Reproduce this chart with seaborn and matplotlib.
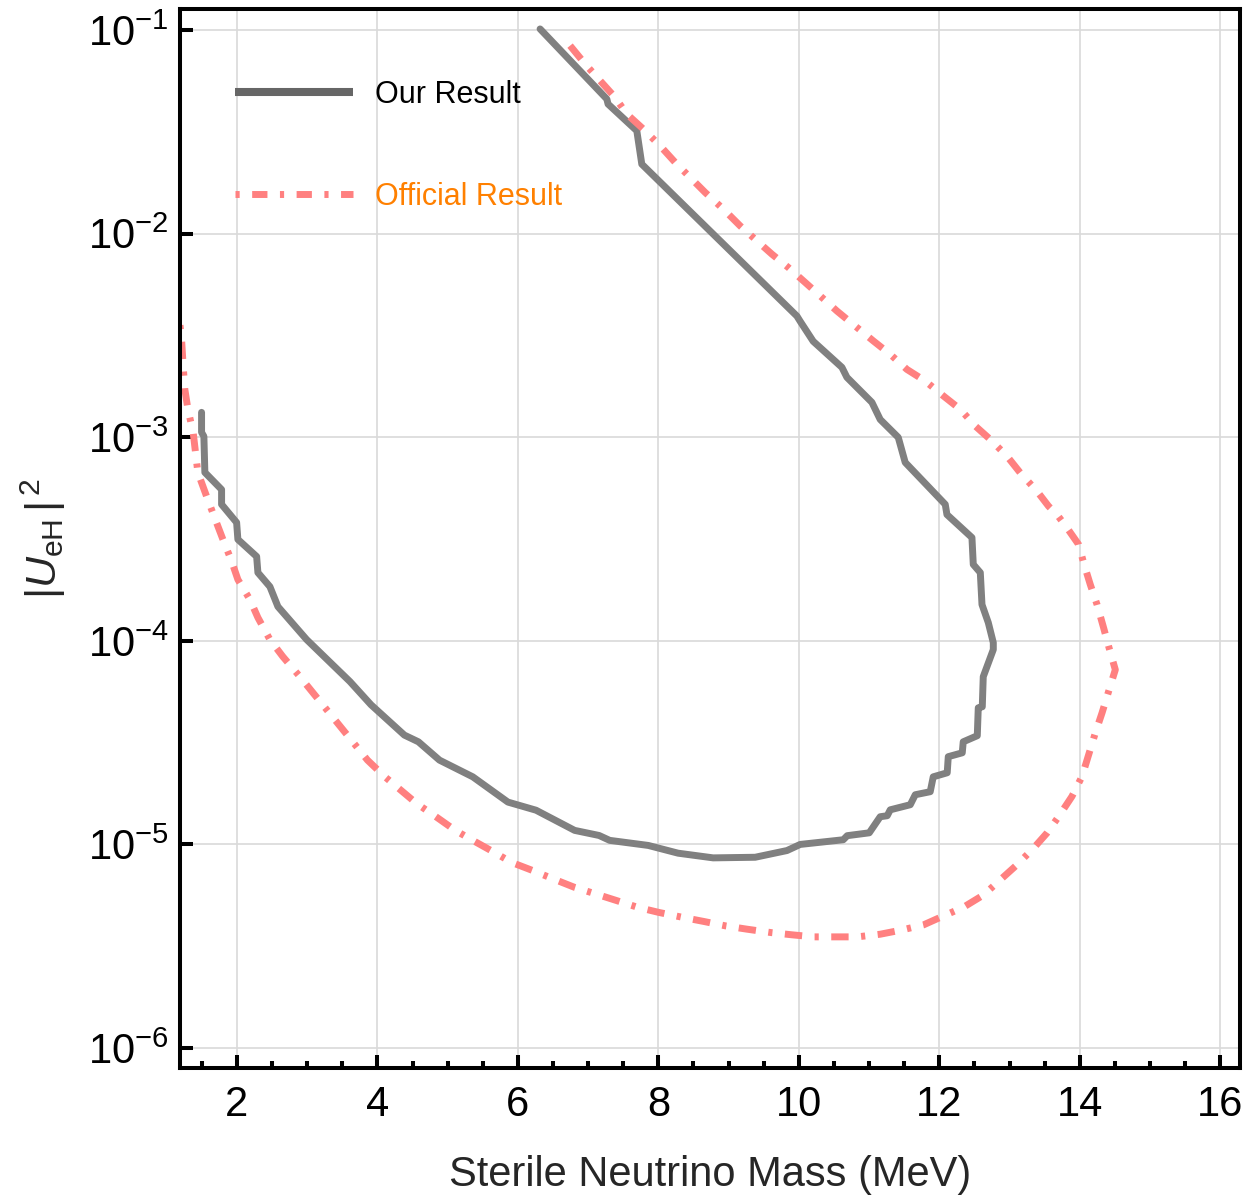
import numpy as np
import pandas as pd
import matplotlib
matplotlib.use("Agg")
import matplotlib.pyplot as plt
import seaborn as sns
from matplotlib.lines import Line2D
from matplotlib.ticker import MultipleLocator, NullLocator, FixedLocator

# ---------------- data ----------------
our_mass = [6.316, 7.266, 7.284, 7.693, 7.764, 9.972, 10.019, 10.204, 10.613, 10.684,
            11.040, 11.158, 11.415, 11.514, 12.084, 12.108, 12.464, 12.483, 12.583, 12.607,
            12.697, 12.768, 12.768, 12.625, 12.611, 12.554, 12.540, 12.340, 12.326, 12.127,
            12.112, 11.913, 11.870, 11.657, 11.586, 11.301, 11.258, 11.158, 11.002, 10.689,
            10.632, 10.019, 9.831, 9.378, 8.780, 8.281, 7.857, 7.307, 7.156, 6.808,
            6.259, 5.858, 5.358, 4.884, 4.584, 4.384, 3.909, 3.609, 2.993, 2.584,
            2.470, 2.299, 2.281, 2.014, 1.996, 1.782, 1.782, 1.544, 1.530, 1.497, 1.497]
our_logU = [-0.995, -1.339, -1.364, -1.495, -1.659, -2.405, -2.431, -2.529, -2.657, -2.706,
            -2.829, -2.913, -3.001, -3.124, -3.330, -3.380, -3.493, -3.625, -3.665, -3.822,
            -3.911, -4.009, -4.043, -4.176, -4.324, -4.329, -4.466, -4.496, -4.550, -4.569,
            -4.648, -4.668, -4.741, -4.756, -4.805, -4.830, -4.859, -4.864, -4.943, -4.957,
            -4.977, -5.000, -5.030, -5.063, -5.066, -5.043, -5.005, -4.980, -4.956, -4.931,
            -4.832, -4.792, -4.668, -4.586, -4.496, -4.463, -4.314, -4.200, -3.994, -3.832,
            -3.734, -3.665, -3.586, -3.502, -3.419, -3.330, -3.257, -3.173, -2.996, -2.976, -2.878]

off_mass = [6.743, 6.957, 7.170, 7.384, 7.551, 7.787, 8.025, 8.238, 8.452, 8.666,
            8.926, 9.164, 9.378, 9.616, 9.852, 10.090, 10.304, 10.541, 10.802, 11.063,
            11.301, 11.538, 11.799, 12.060, 12.298, 12.511, 12.725, 12.963, 13.152, 13.390,
            13.555, 13.675, 13.817, 13.983, 14.054, 14.149, 14.245, 14.339, 14.410, 14.505,
            14.410, 14.316, 14.220, 14.125, 14.031, 13.888, 13.698, 13.532, 13.342, 13.105,
            12.867, 12.630, 12.345, 12.060, 11.775, 11.468, 11.158, 10.831, 10.531, 10.207,
            9.906, 9.606, 9.257, 8.956, 8.657, 8.357, 8.008, 7.707, 7.408, 7.107,
            6.808, 6.508, 6.209, 5.908, 5.659, 5.358, 5.109, 4.834, 4.559, 4.108,
            3.859, 3.609, 2.897, 2.655, 2.470, 2.299, 2.185, 2.014, 1.925, 1.801,
            1.687, 1.568, 1.444, 1.378, 1.303, 1.259, 1.235, 1.212, 1.181]
off_logU = [-1.077, -1.167, -1.249, -1.331, -1.413, -1.487, -1.569, -1.650, -1.724, -1.798,
            -1.880, -1.962, -2.028, -2.101, -2.167, -2.240, -2.306, -2.380, -2.454, -2.528,
            -2.593, -2.667, -2.724, -2.798, -2.863, -2.945, -3.011, -3.093, -3.175, -3.265,
            -3.339, -3.380, -3.445, -3.527, -3.617, -3.724, -3.822, -3.937, -4.027, -4.142,
            -4.248, -4.354, -4.453, -4.560, -4.666, -4.764, -4.863, -4.944, -5.018, -5.100,
            -5.174, -5.248, -5.308, -5.351, -5.395, -5.420, -5.441, -5.454, -5.454, -5.454,
            -5.444, -5.433, -5.416, -5.400, -5.379, -5.359, -5.334, -5.309, -5.276, -5.243,
            -5.211, -5.170, -5.128, -5.088, -5.038, -4.980, -4.931, -4.864, -4.799, -4.668,
            -4.586, -4.479, -4.176, -4.078, -3.994, -3.886, -3.797, -3.699, -3.609, -3.502,
            -3.399, -3.290, -3.173, -2.978, -2.863, -2.765, -2.650, -2.519, -2.421]

series_labels = ["Our Result", "Official Result"]
x_ticks = [2, 4, 6, 8, 10, 12, 14, 16]
y_ticks = [1e-6, 1e-5, 1e-4, 1e-3, 1e-2, 1e-1]

our_df = pd.DataFrame({"mass": our_mass, "U2": 10 ** np.array(our_logU)})
off_df = pd.DataFrame({"mass": off_mass, "U2": 10 ** np.array(off_logU)})

# ---------------- style ----------------
sns.set_style("white")
plt.rcParams["font.family"] = ["Liberation Sans", "DejaVu Sans"]
plt.rcParams["mathtext.fontset"] = "custom"
plt.rcParams["mathtext.rm"] = "Liberation Sans"
plt.rcParams["mathtext.it"] = "Liberation Sans:italic"
plt.rcParams["mathtext.bf"] = "Liberation Sans:bold"

fig = plt.figure(figsize=(12.47, 11.97), dpi=100)
ax = fig.add_axes([180 / 1247, 1 - 1068 / 1197, 1060 / 1247, 1059 / 1197])

gray = "#808080"
red = "#FF8080"

sns.lineplot(data=our_df, x="mass", y="U2", sort=False, estimator=None,
             color=gray, lw=5.0, ax=ax, legend=False)
sns.lineplot(data=off_df, x="mass", y="U2", sort=False, estimator=None,
             color=red, lw=5.0, ax=ax, legend=False)
ax.lines[-1].set_linestyle((0, (2.5, 1.8, 0.6, 1.8)))
ax.lines[0].set_solid_joinstyle("round")

ax.set_yscale("log")
ax.set_xlim(1.19, 16.28)
ax.set_ylim(10 ** -6.098, 10 ** -0.897)

ax.xaxis.set_major_locator(FixedLocator(x_ticks))
ax.xaxis.set_minor_locator(MultipleLocator(0.5))
ax.yaxis.set_major_locator(FixedLocator(y_ticks))
ax.yaxis.set_minor_locator(NullLocator())
ax.yaxis.set_major_formatter(matplotlib.ticker.LogFormatterSciNotation())

ax.grid(True, which="major", color="#d9d9d9", lw=1.2)
ax.set_axisbelow(True)

for s in ax.spines.values():
    s.set_linewidth(2.9)
    s.set_color("black")

ax.tick_params(axis="both", which="both", bottom=True, left=True, top=False, right=False)
ax.tick_params(axis="both", which="major", direction="in", length=9.5, width=2.9,
               labelsize=30, color="black", labelcolor="black")
ax.tick_params(axis="x", which="major", pad=12)
ax.tick_params(axis="y", which="major", pad=8)
ax.tick_params(axis="x", which="minor", direction="in", length=5, width=2.9, color="black")

ax.set_xlabel("Sterile Neutrino Mass (MeV)", fontsize=30, labelpad=22)
ax.set_ylabel(r"$|U_{\mathrm{eH}}\,|^{\,2}$", fontsize=31, labelpad=14)

handles = [Line2D([], [], color="#666666", lw=5.8, solid_capstyle="butt"),
           Line2D([], [], color=red, lw=5.0, linestyle=(0, (0.6, 1.8, 2.2, 1.8)))]
leg = ax.legend(handles, series_labels, loc="upper left",
                bbox_to_anchor=(0.052, 0.933), frameon=False, fontsize=22,
                handlelength=3.87, handletextpad=0.72, labelspacing=2.35,
                borderpad=0, borderaxespad=0,
                labelcolor=["black", "#FF8000"])

fig.savefig("out.png", dpi=100)
